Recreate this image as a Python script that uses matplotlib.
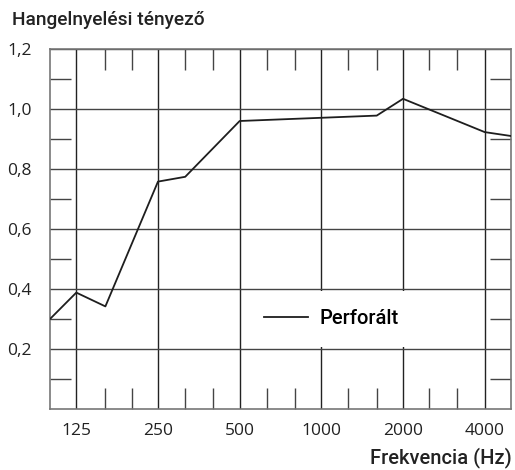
import numpy as np
import matplotlib
matplotlib.use("Agg")
import matplotlib.pyplot as plt
from matplotlib.ticker import FixedLocator, NullFormatter

# frekvencia (Hz) es hangelnyelesi tenyezo
freq = [100, 125, 160, 250, 315, 500, 1600, 2000, 4000, 5000]
alpha = [0.30, 0.388, 0.342, 0.758, 0.774, 0.96, 0.978, 1.034, 0.923, 0.91]

x_major = [125, 250, 500, 1000, 2000, 4000]
x_minor = [160, 200, 315, 400, 630, 800, 1250, 1600, 2500, 3150]
y_major = [0.2, 0.4, 0.6, 0.8, 1.0, 1.2]
y_minor = [0.1, 0.3, 0.5, 0.7, 0.9, 1.1]

plt.rcParams['font.family'] = ['Open Sans', 'DejaVu Sans']

fig = plt.figure(figsize=(5.15, 4.7), dpi=100)
ax = fig.add_axes([50/515, 1 - 409/470, 461/515, 360/470])

ax.plot(freq, alpha, color='#1e1e1e', lw=1.3, label='Perforált', zorder=3)

ax.set_xscale('log', base=2)
ax.set_xlim(100, 5000)
ax.set_ylim(0, 1.2)

ax.xaxis.set_major_locator(FixedLocator(x_major))
ax.xaxis.set_minor_locator(FixedLocator(x_minor))
ax.xaxis.set_minor_formatter(NullFormatter())
ax.set_xticklabels([str(v) for v in x_major])
ax.yaxis.set_major_locator(FixedLocator(y_major))
ax.yaxis.set_minor_locator(FixedLocator(y_minor))
ax.set_yticklabels([f"{v:.1f}".replace('.', ',') for v in y_major])

ax.tick_params(which='major', length=0, labelsize=12.5, colors='#222222', pad=13)
ax.tick_params(axis='x', which='major', pad=10)
ax.tick_params(which='minor', direction='in', length=15, width=1, color='#444444',
               top=True, right=True)

ax.grid(True, which='major', axis='x', color='#222222', lw=1)
ax.grid(True, which='major', axis='y', color='#444444', lw=1)
for s in ax.spines.values():
    s.set_color('#777777')
    s.set_linewidth(1.2)

leg = ax.legend(loc='center', bbox_to_anchor=(0.61, 0.25), frameon=True,
                prop={'family': 'Roboto', 'size': 14.5, 'weight': 'medium'},
                handlelength=2.2, handletextpad=0.55,
                borderpad=0.9, borderaxespad=0)
leg.get_frame().set_edgecolor('none')
leg.get_frame().set_facecolor('white')
leg.get_frame().set_alpha(1)
leg.get_frame().set_boxstyle('square', pad=0)

fig.text(12/515, 1 - 20/470, 'Hangelnyelési tényező', fontsize=13.8,
         family='Roboto', fontweight='medium', color='#222222', va='center', ha='left')
fig.text(512/515, 1 - 458/470, 'Frekvencia (Hz)', fontsize=14.5,
         family='Roboto', fontweight='medium', color='#222222', va='center', ha='right')

fig.savefig('out.png', dpi=100)
